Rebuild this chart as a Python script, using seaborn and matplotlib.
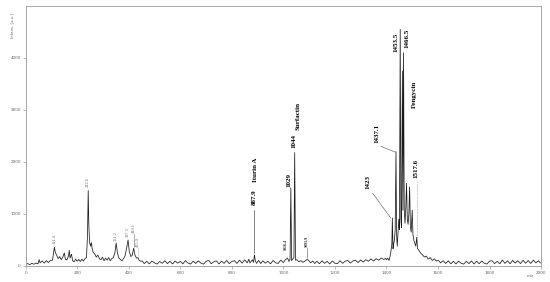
import pandas as pd
import matplotlib.pyplot as plt
import seaborn as sns
from matplotlib.ticker import MultipleLocator

# spectrum, in four pieces
mz_low = [0, 8, 16, 24, 32, 40, 48, 52, 56, 64,
          72, 80, 88, 96, 104, 108, 111.4, 115, 120, 126,
          132, 138, 144, 150, 154, 160, 166, 169, 172, 176,
          178, 182, 188, 194, 200, 206, 212, 218, 224, 230,
          236, 240, 242.6, 245, 248, 252, 255, 258, 262, 268,
          274, 280, 286, 292, 298, 304, 310, 316, 322, 328,
          334, 340, 346, 351.2, 356, 362, 368, 374, 380, 386,
          392, 397.3, 402, 408, 413, 419.1, 424, 430, 435.9, 440,
          446]
int_low = [30, 45, 25, 50, 32, 55, 40, 120, 60, 95,
           55, 100, 65, 105, 110, 250, 360, 260, 210, 140,
           180, 120, 170, 250, 130, 115, 190, 300, 150, 210,
           220, 100, 80, 130, 90, 125, 85, 130, 95, 140,
           160, 600, 1450, 800, 450, 380, 450, 330, 260, 230,
           170, 210, 140, 120, 170, 100, 150, 110, 160, 100,
           140, 160, 250, 440, 250, 150, 120, 100, 140, 200,
           350, 500, 280, 180, 200, 340, 210, 150, 160, 110,
           90]

mz_mid = [452, 460, 470, 480, 490, 500, 510, 520, 530, 540,
          550, 560, 570, 580, 590, 600, 610, 620, 630, 640,
          650, 660, 670, 680, 690, 700, 710, 720, 730, 740,
          750, 760, 770, 780, 790, 800, 810, 820, 830, 840,
          850, 860, 866, 870, 880, 884, 887.9, 891, 896, 904,
          912, 920, 930, 940, 950, 960, 970, 980, 990, 1000,
          1008, 1016.4, 1022, 1026, 1029, 1032, 1038, 1041, 1044, 1047,
          1052, 1060, 1068, 1076, 1084, 1091.9, 1098, 1106, 1114, 1122,
          1130, 1140, 1150, 1160, 1170, 1180, 1190, 1200, 1210, 1220,
          1230, 1240, 1250, 1260, 1270, 1280, 1290, 1300, 1310, 1320,
          1330, 1340, 1350, 1360, 1370, 1380, 1390, 1396]
int_mid = [95, 45, 88, 40, 92, 60, 35, 85, 50, 100,
           45, 90, 38, 95, 52, 88, 40, 102, 55, 36,
           92, 48, 98, 55, 35, 88, 105, 42, 80, 96,
           38, 92, 50, 104, 44, 86, 100, 48, 110, 55,
           115, 60, 130, 58, 118, 70, 210, 100, 50, 105,
           45, 98, 52, 90, 40, 104, 60, 48, 112, 65,
           120, 150, 85, 130, 1500, 100, 145, 160, 2180, 110,
           120, 80, 100, 70, 95, 125, 105, 60, 95, 48,
           90, 42, 98, 50, 88, 38, 95, 52, 45, 100,
           50, 92, 105, 55, 96, 110, 65, 115, 75, 120,
           90, 135, 95, 140, 110, 150, 125, 145]

mz_clu = [1400, 1405, 1410, 1414, 1418, 1421, 1423, 1425.5, 1428, 1431,
          1434, 1437.1, 1439.5, 1442, 1445, 1448, 1450.5, 1453.5, 1456, 1458.5,
          1462, 1464, 1466.5, 1469, 1472, 1475, 1478, 1481, 1484, 1487,
          1490, 1493, 1496, 1500, 1503, 1507, 1511, 1514, 1517.6, 1521,
          1526, 1531, 1536, 1542, 1548, 1555, 1562, 1570, 1578, 1586,
          1594]
int_clu = [120, 150, 105, 180, 300, 420, 920, 330, 420, 500,
           700, 2200, 600, 380, 650, 900, 700, 4550, 900, 740,
           3750, 1070, 4100, 1100, 820, 1100, 1590, 900, 800, 1000,
           1520, 750, 650, 1070, 600, 480, 420, 380, 550, 330,
           300, 260, 230, 200, 170, 190, 130, 160, 105, 135,
           95]

mz_high = [1602, 1610, 1620, 1630, 1640, 1650, 1660, 1670, 1680, 1690,
           1700, 1710, 1720, 1730, 1740, 1750, 1760, 1770, 1780, 1790,
           1800, 1810, 1820, 1830, 1840, 1850, 1860, 1870, 1880, 1890,
           1900, 1910, 1920, 1930, 1940, 1950, 1960, 1970, 1980, 1990,
           1998]
int_high = [105, 60, 100, 48, 95, 42, 90, 38, 92, 50,
            35, 88, 45, 96, 38, 90, 42, 95, 50, 36,
            92, 100, 45, 88, 40, 115, 50, 98, 42, 105,
            55, 100, 45, 108, 52, 104, 48, 110, 60, 98,
            55]

minor_peaks = [111.4, 242.6, 351.2, 397.3, 419.1, 435.9]
main_peaks = ["887.9", "1029", "1044", "1423", "1437.1", "1453.5", "1466.5", "1517.6"]
small_peaks = ["1016.4", "1091.9"]
compounds = ["Iturin A", "Surfactin", "Fengycin"]

df = pd.DataFrame({
    "mz": mz_low + mz_mid + mz_clu + mz_high,
    "intens": int_low + int_mid + int_clu + int_high,
})

sns.set_style("white")
fig = plt.figure(figsize=(5.5, 2.82), dpi=100)
ax = fig.add_axes([0.0467, 0.057, 0.937, 0.922])

sns.lineplot(data=df, x="mz", y="intens", ax=ax, color="#1a1a1a",
             linewidth=0.55, estimator=None, sort=False)

ax.set_xlim(0, 2000)
ax.set_ylim(0, 5000)
ax.set_xlabel("")
ax.set_ylabel("")
ax.xaxis.set_major_locator(MultipleLocator(200))
ax.xaxis.set_minor_locator(MultipleLocator(100))
ax.yaxis.set_major_locator(MultipleLocator(1000))
ax.yaxis.set_minor_locator(MultipleLocator(250))
ax.set_yticks([0, 1000, 2000, 3000, 4000])
ax.tick_params(which="both", direction="out", color="#888888", width=0.4,
               labelsize=3, labelcolor="#666666", pad=1.5)
ax.tick_params(which="major", length=2)
ax.tick_params(which="minor", length=1.2)
ax.tick_params(axis="x", bottom=True)
ax.tick_params(axis="y", left=True)
for s in ax.spines.values():
    s.set_color("#999999")
    s.set_linewidth(0.6)

fig.text(0.022, 0.955, "Intens. [a.u.]", rotation=90, ha="center", va="top",
         fontsize=2.8, color="#666666")
fig.text(0.964, 0.022, "m/z", ha="center", va="center", fontsize=2.8, color="#666666")

# small grey labels on the low mass peaks
grey = "#6a6a6a"
minor_y = {111.4: 420, 242.6: 1520, 351.2: 470, 397.3: 560, 419.1: 640, 435.9: 370}
for p in minor_peaks:
    ax.text(p, minor_y[p], f"{p}", rotation=90, ha="center", va="bottom",
            fontsize=3.2, color=grey, family="Liberation Serif")
ax.plot([419.1, 419.1], [360, 620], color=grey, lw=0.4)
ax.plot([435.9, 435.9], [180, 360], color=grey, lw=0.4, ls=":")
ax.plot([111.4, 111.4], [370, 410], color=grey, lw=0.4, ls=":")

# bold labels
bold = dict(rotation=90, ha="center", va="bottom", fontsize=5,
            fontweight="bold", family="Liberation Serif", color="black")
main_pos = {"887.9": (887.9, 1170), "1029": (1020, 1520), "1044": (1040, 2270),
            "1423": (1330, 1470), "1437.1": (1365, 2370), "1453.5": (1437, 4120),
            "1466.5": (1481, 4200), "1517.6": (1516, 1700)}
for lab in main_peaks:
    x, y = main_pos[lab]
    ax.text(x, y, lab, **bold)

comp_pos = {"Iturin A": (892, 1610), "Surfactin": (1058, 2620), "Fengycin": (1508, 3040)}
for lab in compounds:
    x, y = comp_pos[lab]
    ax.text(x, y, lab, **bold)

small_pos = {"1016.4": (1008, 300), "1091.9": (1090, 360)}
for lab in small_peaks:
    x, y = small_pos[lab]
    ax.text(x, y, lab, rotation=90, ha="center", va="bottom", fontsize=3,
            fontweight="bold", family="Liberation Serif", color="#222222")

lead = "#555555"
ax.plot([887.9, 887.9], [240, 1070], color=lead, lw=0.5)
ax.plot([1091.9, 1091.9], [160, 340], color=lead, lw=0.4)
ax.plot([1346, 1417], [1400, 920], color=lead, lw=0.4)
ax.plot([1378, 1433], [2300, 2190], color=lead, lw=0.4)
ax.plot([1517.6, 1517.6], [560, 1640], color=lead, lw=0.4, ls=":")

plt.savefig("out.png", dpi=100)
